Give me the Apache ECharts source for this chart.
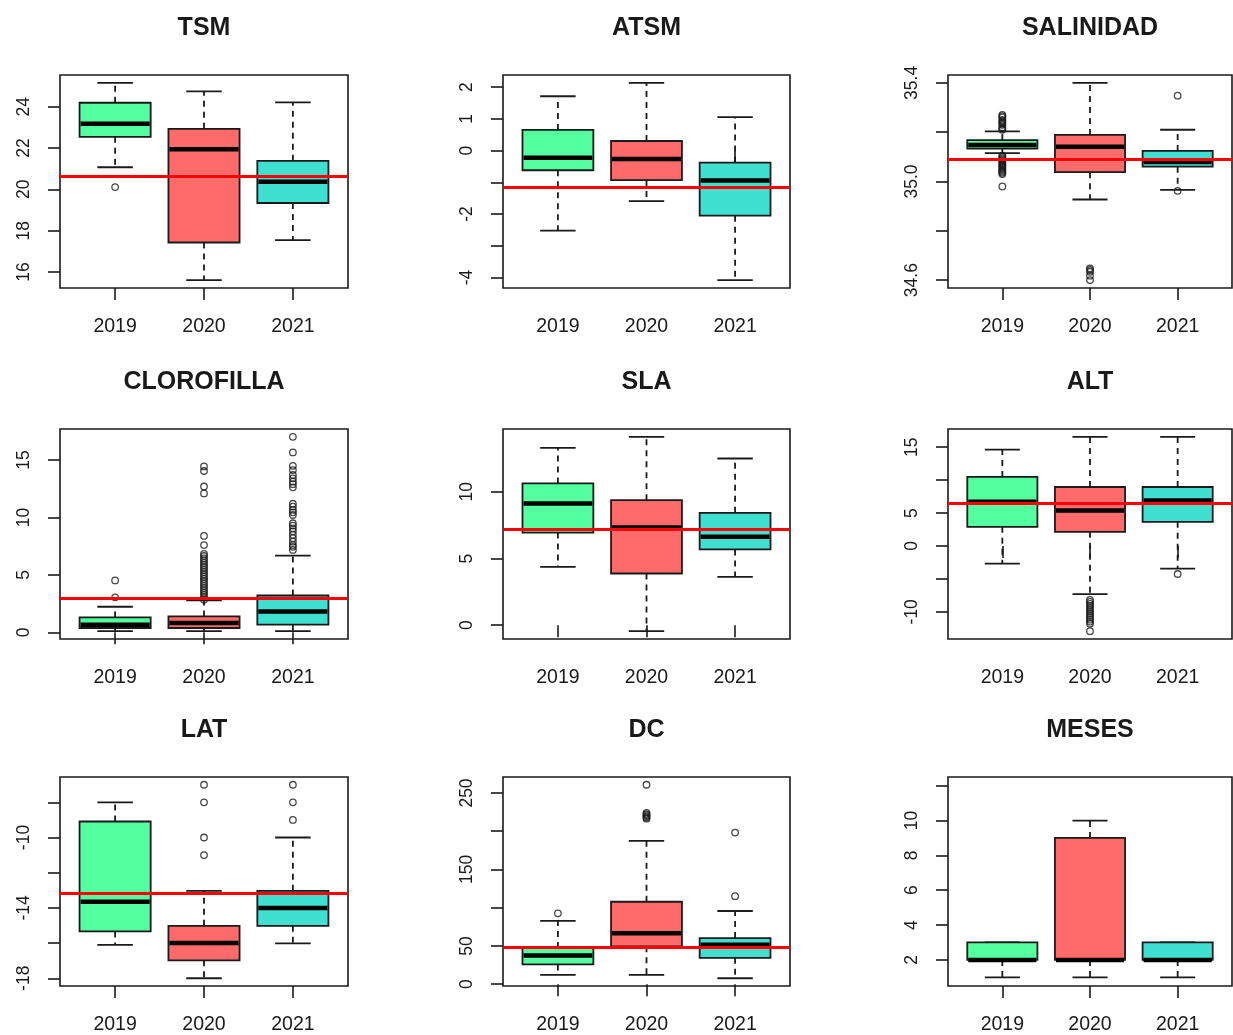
<!DOCTYPE html>
<html>
<head>
<meta charset="utf-8">
<script src="https://cdn.jsdelivr.net/npm/echarts@6/dist/echarts.min.js"></script>
<style>
  html, body { margin: 0; padding: 0; background: #ffffff; }
  #chart { width: 1233px; height: 1035px; }
</style>
</head>
<body>
<div id="chart"></div>
<script>
// Box statistics per year: [lower whisker, Q1, median, Q3, upper whisker]
const years = ['2019', '2020', '2021'];

const tsmStats = [[21.07, 22.54, 23.17, 24.19, 25.15], [15.61, 17.43, 21.94, 22.93, 24.74], [17.54, 19.34, 20.37, 21.38, 24.21]];
const tsmOutliers = [[20.11], [], []];
const tsmMean = 20.65;
const tsmTicks = [16, 18, 20, 22, 24];
const tsmTickLabels = ['16', '18', '20', '22', '24'];

const atsmStats = [[-2.52, -0.62, -0.23, 0.65, 1.71], [-1.59, -0.93, -0.27, 0.30, 2.13], [-4.08, -2.05, -0.94, -0.38, 1.05]];
const atsmOutliers = [[], [], []];
const atsmMean = -1.16;
const atsmTicks = [-4, -3, -2, -1, 0, 1, 2];
const atsmTickLabels = ['-4', '', '-2', '', '0', '1', '2'];

const salStats = [[35.115, 35.133, 35.148, 35.168, 35.203], [34.927, 35.038, 35.141, 35.189, 35.40], [34.966, 35.060, 35.079, 35.124, 35.210]];
const salOutliers = [
  [35.27, 35.265, 35.26, 35.25, 35.245, 35.24, 35.235, 35.23, 35.22, 35.215, 35.21,
   35.105, 35.10, 35.095, 35.09, 35.085, 35.08, 35.075, 35.07, 35.065, 35.06, 35.055, 35.05, 35.045, 35.04, 35.035, 35.03, 34.98],
  [34.648, 34.641, 34.634, 34.618, 34.60],
  [35.348, 34.962]
];
const salMean = 35.094;
const salTicks = [34.6, 34.8, 35.0, 35.2, 35.4];
const salTickLabels = ['34.6', '', '35.0', '', '35.4'];

const cloStats = [[0.10, 0.38, 0.67, 1.30, 2.23], [0.10, 0.38, 0.81, 1.39, 2.78], [0.10, 0.67, 1.82, 3.21, 6.69]];
const cloOutliers = [
  [3.05, 4.52],
  [2.85, 3.05, 3.25, 3.45, 3.65, 3.85, 4.05, 4.25, 4.45, 4.65, 4.85, 5.05, 5.25, 5.45, 5.65, 5.85, 6.05, 6.25, 6.45, 6.65, 6.83,
   7.6, 8.4, 12.1, 12.7, 14.05, 14.45],
  [7.18, 7.45, 7.6, 7.9, 8.2, 8.49, 8.8, 9.06, 9.3, 9.5, 10.22, 10.45, 10.66, 10.95, 11.2, 12.63, 12.9, 13.12, 13.41, 13.7, 14.13, 14.5, 15.67, 17.03]
];
const cloMean = 3.0;
const cloTicks = [0, 5, 10, 15];
const cloTickLabels = ['0', '5', '10', '15'];

const slaStats = [[4.38, 6.95, 9.13, 10.63, 13.30], [-0.45, 3.88, 7.33, 9.38, 14.13], [3.63, 5.68, 6.63, 8.43, 12.50]];
const slaOutliers = [[], [], []];
const slaMean = 7.2;
const slaTicks = [0, 5, 10];
const slaTickLabels = ['0', '5', '10'];

const altStats = [[-2.68, 2.91, 6.72, 10.48, 14.64], [-7.31, 2.14, 5.40, 8.95, 16.58], [-3.44, 3.67, 6.92, 8.95, 16.58]];
const altOutliers = [
  [],
  [-8.2, -8.5, -8.8, -9.1, -9.4, -9.7, -10.0, -10.3, -10.6, -10.9, -11.2, -11.5, -11.8, -12.95],
  [-4.26]
];
const altMean = 6.5;
const altTicks = [-10, -5, 0, 5, 10, 15];
const altTickLabels = ['-10', '', '0', '5', '', '15'];

const latStats = [[-16.1, -15.34, -13.65, -9.09, -8.0], [-18.0, -16.98, -16.0, -15.02, -13.03], [-16.02, -15.02, -14.0, -13.03, -10.0]];
const latOutliers = [[], [-7, -8, -10, -11], [-7, -8, -9]];
const latMean = -13.16;
const latTicks = [-18, -16, -14, -12, -10, -8];
const latTickLabels = ['-18', '', '-14', '', '-10', ''];

const dcStats = [[12.1, 25.9, 37.5, 47.4, 82.8], [12.1, 49.6, 66.8, 107.8, 187.5], [7.8, 34.5, 51.7, 60.3, 95.7]];
const dcOutliers = [[92.7], [260.8, 216.4, 218, 219.5, 221, 222.5, 224.1], [198.3, 115.1]];
const dcMean = 48.5;
const dcTicks = [0, 50, 100, 150, 200, 250];
const dcTickLabels = ['0', '50', '', '150', '', '250'];

const mesStats = [[1, 2, 2, 3, 3], [1, 2, 2, 9, 10], [1, 2, 2, 3, 3]];
const mesOutliers = [[], [], []];
const mesRange = [0.5, 12.5];
const mesTicks = [2, 4, 6, 8, 10, 12];
const mesTickLabels = ['2', '4', '6', '8', '10', ''];

const panels = [
  { title: 'TSM', stats: tsmStats, outliers: tsmOutliers, mean: tsmMean, ticks: tsmTicks, labels: tsmTickLabels },
  { title: 'ATSM', stats: atsmStats, outliers: atsmOutliers, mean: atsmMean, ticks: atsmTicks, labels: atsmTickLabels },
  { title: 'SALINIDAD', stats: salStats, outliers: salOutliers, mean: salMean, ticks: salTicks, labels: salTickLabels },
  { title: 'CLOROFILLA', stats: cloStats, outliers: cloOutliers, mean: cloMean, ticks: cloTicks, labels: cloTickLabels },
  { title: 'SLA', stats: slaStats, outliers: slaOutliers, mean: slaMean, ticks: slaTicks, labels: slaTickLabels },
  { title: 'ALT', stats: altStats, outliers: altOutliers, mean: altMean, ticks: altTicks, labels: altTickLabels },
  { title: 'LAT', stats: latStats, outliers: latOutliers, mean: latMean, ticks: latTicks, labels: latTickLabels },
  { title: 'DC', stats: dcStats, outliers: dcOutliers, mean: dcMean, ticks: dcTicks, labels: dcTickLabels },
  { title: 'MESES', stats: mesStats, outliers: mesOutliers, mean: null, ticks: mesTicks, labels: mesTickLabels, range: mesRange }
];

// Layout of the 3x3 panel grid (plot regions, px)
const colLeft = [60, 503, 948];
const colWidth = [288, 287, 284];
const rowTop = [75, 429, 777];
const rowHeight = [213, 210, 212];

const boxColors = ['#54FF9F', '#FF6A6A', '#40E0D0'];
const ink = '#1a1a1a';
const font = '"Liberation Sans", Arial, sans-serif';

// y range like R: data extent padded by 4% on each side
function yRange(p) {
  if (p.range) return p.range;
  const vals = [];
  p.stats.forEach(s => vals.push(...s));
  p.outliers.forEach(o => vals.push(...o));
  const lo = Math.min(...vals), hi = Math.max(...vals);
  const pad = (hi - lo) * 0.04;
  return [lo - pad, hi + pad];
}

function labelFor(p, v) {
  for (let i = 0; i < p.ticks.length; i++) {
    if (Math.abs(p.ticks[i] - v) < 1e-9) return p.labels[i];
  }
  return '';
}

function renderBox(params, api) {
  const x = api.value(0);
  const lo = api.value(1), q1 = api.value(2), med = api.value(3), q3 = api.value(4), hi = api.value(5);
  const color = boxColors[api.value(6)];
  const halfBox = 0.4, halfCap = 0.2;
  const c = (a, b) => api.coord([a, b]);
  const tl = c(x - halfBox, q3), br = c(x + halfBox, q1);
  const dash = { stroke: ink, lineWidth: 1.8, lineDash: [6, 5] };
  const solid = { stroke: ink, lineWidth: 1.8 };
  const children = [];
  // whiskers
  const wTop0 = c(x, q3), wTop1 = c(x, hi), wBot0 = c(x, q1), wBot1 = c(x, lo);
  children.push({ type: 'line', shape: { x1: wTop0[0], y1: wTop0[1], x2: wTop1[0], y2: wTop1[1] }, style: dash });
  children.push({ type: 'line', shape: { x1: wBot0[0], y1: wBot0[1], x2: wBot1[0], y2: wBot1[1] }, style: dash });
  // staples
  const capT0 = c(x - halfCap, hi), capT1 = c(x + halfCap, hi);
  const capB0 = c(x - halfCap, lo), capB1 = c(x + halfCap, lo);
  children.push({ type: 'line', shape: { x1: capT0[0], y1: capT0[1], x2: capT1[0], y2: capT1[1] }, style: solid });
  children.push({ type: 'line', shape: { x1: capB0[0], y1: capB0[1], x2: capB1[0], y2: capB1[1] }, style: solid });
  // box
  children.push({
    type: 'rect',
    shape: { x: tl[0], y: tl[1], width: br[0] - tl[0], height: br[1] - tl[1] },
    style: { fill: color, stroke: ink, lineWidth: 1.8 }
  });
  // median
  const m0 = c(x - halfBox, med), m1 = c(x + halfBox, med);
  children.push({ type: 'line', shape: { x1: m0[0] + 1, y1: m0[1], x2: m1[0] - 1, y2: m1[1] }, style: { stroke: '#000', lineWidth: 4.5 } });
  return { type: 'group', children };
}

const option = {
  animation: false,
  backgroundColor: '#ffffff',
  title: [], grid: [], xAxis: [], yAxis: [], series: []
};

panels.forEach((p, i) => {
  const r = Math.floor(i / 3), col = i % 3;
  const left = colLeft[col], width = colWidth[col], top = rowTop[r], height = rowHeight[r];
  const [ymin, ymax] = yRange(p);

  option.title.push({
    text: p.title,
    left: left + width / 2,
    top: top - 59,
    padding: 0,
    textAlign: 'center',
    textStyle: { fontFamily: font, fontWeight: 'bold', fontSize: 25, color: ink }
  });

  option.grid.push({
    left: left, top: top, width: width, height: height,
    show: true, borderColor: ink, borderWidth: 1.6, backgroundColor: 'transparent'
  });

  option.xAxis.push({
    type: 'value', gridIndex: i, min: 0.38, max: 3.62,
    axisLine: { show: false },
    splitLine: { show: false },
    axisTick: { show: true, customValues: [1, 2, 3], length: 12, lineStyle: { color: ink, width: 1.6 } },
    axisLabel: {
      show: true, customValues: [1, 2, 3], margin: 29,
      formatter: v => years[Math.round(v) - 1],
      fontFamily: font, fontSize: 19.5, color: ink
    }
  });

  option.yAxis.push({
    type: 'value', gridIndex: i, min: ymin, max: ymax,
    axisLine: { show: false },
    splitLine: { show: false },
    axisTick: { show: true, customValues: p.ticks, length: 12, lineStyle: { color: ink, width: 1.6 } },
    axisLabel: {
      show: true, customValues: p.ticks.filter((t, k) => p.labels[k] !== ''), rotate: 90, margin: 27,
      formatter: v => labelFor(p, v),
      fontFamily: font, fontSize: 17.5, color: ink
    }
  });

  const boxData = p.stats.map((s, k) => [k + 1, s[0], s[1], s[2], s[3], s[4], k]);
  const boxSeries = {
    type: 'custom', xAxisIndex: i, yAxisIndex: i, z: 2,
    renderItem: renderBox,
    encode: { x: 0, y: [1, 2, 3, 4, 5] },
    data: boxData,
    silent: true
  };
  if (p.mean !== null) {
    boxSeries.markLine = {
      silent: true, symbol: ['none', 'none'], z: 10,
      label: { show: false },
      lineStyle: { color: '#ff0000', width: 3, type: 'solid' },
      emphasis: { disabled: true },
      data: [{ yAxis: p.mean }]
    };
  }
  option.series.push(boxSeries);

  const outData = [];
  p.outliers.forEach((vals, k) => vals.forEach(v => outData.push([k + 1, v])));
  option.series.push({
    type: 'scatter', xAxisIndex: i, yAxisIndex: i, z: 3,
    symbol: 'circle', symbolSize: 6.5,
    itemStyle: { color: 'rgba(0,0,0,0)', borderColor: ink, borderWidth: 1.3 },
    data: outData,
    silent: true
  });
});

const chart = echarts.init(document.getElementById('chart'), null, { renderer: 'canvas' });
chart.setOption(option);
</script>
</body>
</html>
